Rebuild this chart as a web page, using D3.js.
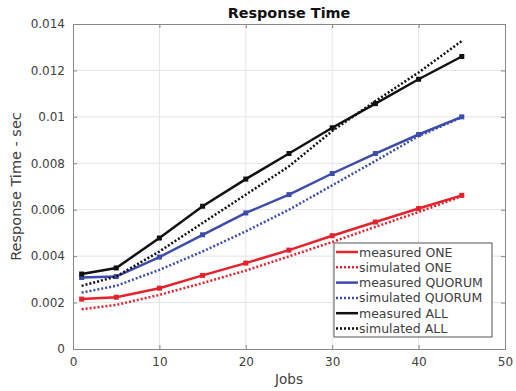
<!DOCTYPE html>
<html>
<head>
<meta charset="utf-8">
<script src="https://cdn.jsdelivr.net/npm/d3@7"></script>
<style>
  body { margin: 0; background: #fff; }
  text { font-family: "DejaVu Sans", sans-serif; }
</style>
</head>
<body>
<div id="chart"></div>
<script>
var svgWidth = 516;
var svgHeight = 391;

var margin = { top: 24, right: 11, bottom: 42, left: 73 };
var width = svgWidth - margin.left - margin.right;
var height = svgHeight - margin.top - margin.bottom;

// data
var jobs = [1, 5, 10, 15, 20, 25, 30, 35, 40, 45];
var measuredOne = [0.00215, 0.00223, 0.00262, 0.00317, 0.0037, 0.00426, 0.00488, 0.00547, 0.00605, 0.00662];
var simulatedOne = [0.00171, 0.0019, 0.00233, 0.00284, 0.00338, 0.00399, 0.00461, 0.00526, 0.0059, 0.00658];
var measuredQuorum = [0.00308, 0.00312, 0.00396, 0.00492, 0.00586, 0.00665, 0.00756, 0.00842, 0.00924, 0.01];
var simulatedQuorum = [0.00243, 0.00272, 0.00341, 0.0042, 0.00507, 0.006, 0.00705, 0.0081, 0.00917, 0.00998];
var measuredAll = [0.00323, 0.00349, 0.00478, 0.00615, 0.00732, 0.00842, 0.00953, 0.01057, 0.01162, 0.0126];
var simulatedAll = [0.00272, 0.00312, 0.0042, 0.00543, 0.00665, 0.00787, 0.00939, 0.01068, 0.01191, 0.01327];

var xTicks = [0, 10, 20, 30, 40, 50];
var yTicks = [0, 0.002, 0.004, 0.006, 0.008, 0.01, 0.012, 0.014];

var series = [
  { name: "measured ONE", values: measuredOne, color: "#e5222b", dotted: false },
  { name: "simulated ONE", values: simulatedOne, color: "#e5222b", dotted: true },
  { name: "measured QUORUM", values: measuredQuorum, color: "#3b4cad", dotted: false },
  { name: "simulated QUORUM", values: simulatedQuorum, color: "#3b4cad", dotted: true },
  { name: "measured ALL", values: measuredAll, color: "#111111", dotted: false },
  { name: "simulated ALL", values: simulatedAll, color: "#111111", dotted: true }
];

var svg = d3.select("#chart")
  .append("svg")
  .attr("width", svgWidth)
  .attr("height", svgHeight);

var chartGroup = svg.append("g")
  .attr("transform", `translate(${margin.left}, ${margin.top})`);

var xScale = d3.scaleLinear().domain([0, 50]).range([0, width]);
var yScale = d3.scaleLinear().domain([0, 0.014]).range([height, 0]);

// grid
chartGroup.append("g").selectAll("line")
  .data(xTicks.slice(1, -1))
  .enter()
  .append("line")
  .attr("x1", d => xScale(d)).attr("x2", d => xScale(d))
  .attr("y1", 0).attr("y2", height)
  .attr("stroke", "#e4e4e4").attr("stroke-width", 1);

chartGroup.append("g").selectAll("line")
  .data(yTicks.slice(1, -1))
  .enter()
  .append("line")
  .attr("y1", d => yScale(d)).attr("y2", d => yScale(d))
  .attr("x1", 0).attr("x2", width)
  .attr("stroke", "#e4e4e4").attr("stroke-width", 1);

// axes
var bottomAxis = d3.axisBottom(xScale).tickValues(xTicks).tickSize(-4).tickPadding(8).tickFormat(d3.format("d"));
var leftAxis = d3.axisLeft(yScale).tickValues(yTicks).tickSize(-4).tickPadding(8).tickFormat(d => d === 0 ? "0" : String(+d.toFixed(3)));
var topAxis = d3.axisTop(xScale).tickValues(xTicks).tickSize(-4).tickFormat("");
var rightAxis = d3.axisRight(yScale).tickValues(yTicks).tickSize(-4).tickFormat("");

[
  chartGroup.append("g").attr("transform", `translate(0, ${height})`).call(bottomAxis),
  chartGroup.append("g").call(leftAxis),
  chartGroup.append("g").call(topAxis),
  chartGroup.append("g").attr("transform", `translate(${width}, 0)`).call(rightAxis)
].forEach(function(g) {
  g.select(".domain").attr("stroke", "#888");
  g.selectAll(".tick line").attr("stroke", "#888");
  g.selectAll("text").attr("fill", "#404040").style("font-size", "12px").style("font-family", "DejaVu Sans");
});

// lines
var line = d3.line()
  .x((d, i) => xScale(jobs[i]))
  .y(d => yScale(d));

series.forEach(function(s) {
  chartGroup.append("path")
    .datum(s.values)
    .attr("fill", "none")
    .attr("stroke", s.color)
    .attr("stroke-width", 2.5)
    .attr("stroke-dasharray", s.dotted ? "2,2" : null)
    .attr("d", line);

  if (!s.dotted) {
    chartGroup.append("g").selectAll("rect")
      .data(s.values)
      .enter()
      .append("rect")
      .attr("x", (d, i) => xScale(jobs[i]) - 2.5)
      .attr("y", d => yScale(d) - 2.5)
      .attr("width", 5)
      .attr("height", 5)
      .attr("fill", s.color);
  }
});

// title
chartGroup.append("text")
  .attr("x", width / 2)
  .attr("y", -6)
  .attr("text-anchor", "middle")
  .style("font-size", "14.4px")
  .style("font-weight", "bold")
  .attr("fill", "#111")
  .text("Response Time");

// axis labels
chartGroup.append("text")
  .attr("x", width / 2)
  .attr("y", height + 35)
  .attr("text-anchor", "middle")
  .style("font-size", "13.5px")
  .attr("fill", "#404040")
  .text("Jobs");

chartGroup.append("text")
  .attr("transform", `translate(-52, ${height / 2}) rotate(-90)`)
  .attr("text-anchor", "middle")
  .style("font-size", "14.5px")
  .attr("fill", "#404040")
  .text("Response Time - sec");

// legend
var legend = chartGroup.append("g")
  .attr("transform", `translate(${334 - margin.left}, ${243 - margin.top})`);

legend.append("rect")
  .attr("width", 158)
  .attr("height", 94)
  .attr("fill", "#fff")
  .attr("stroke", "#555")
  .attr("stroke-width", 1);

series.forEach(function(s, i) {
  var yy = 9 + i * 15.3;
  legend.append("line")
    .attr("x1", 2).attr("x2", 24)
    .attr("y1", yy).attr("y2", yy)
    .attr("stroke", s.color)
    .attr("stroke-width", 2.5)
    .attr("stroke-dasharray", s.dotted ? "2,2" : null);
  legend.append("text")
    .attr("x", 25)
    .attr("y", yy + 4.5)
    .style("font-size", "12.5px")
    .attr("fill", "#404040")
    .text(s.name);
});
</script>
</body>
</html>
